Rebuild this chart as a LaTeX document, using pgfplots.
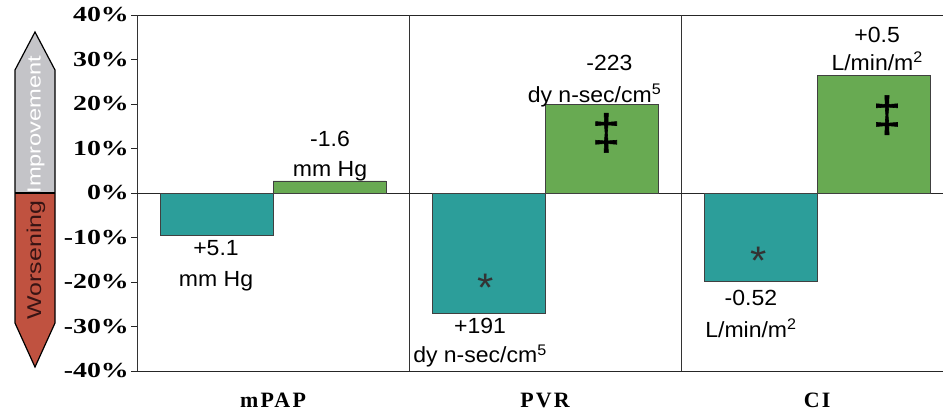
\documentclass[border=0pt]{standalone}
\usepackage{fontspec}
\usepackage{pgfplots}
\pgfplotsset{compat=1.18}
\setmainfont{Liberation Serif}
\newfontfamily\tickfont[FakeStretch=1.3]{Liberation Serif}
\newfontfamily\catfont[LetterSpace=10]{Liberation Serif}
\newfontfamily\lblfont[FakeStretch=1.05]{Liberation Sans}
\newfontfamily\daggerfont[FakeBold=1.2]{Liberation Sans}
\newfontfamily\arrfont[FakeStretch=1.25]{Liberation Sans}
\definecolor{tealbar}{RGB}{44,158,154}
\definecolor{greenbar}{RGB}{104,170,82}
\definecolor{arrgray}{RGB}{196,196,200}
\definecolor{arrred}{RGB}{192,82,64}
\definecolor{worscol}{RGB}{55,20,20}
\newcommand{\lbl}{\lblfont\fontsize{22}{26}\selectfont}
\begin{document}
\begin{tikzpicture}[x=1bp,y=1bp]
\useasboundingbox (0,0) rectangle (943,412);
% side arrow
\fill[arrgray] (15,219) -- (15,342) -- (35,380) -- (55,342) -- (55,219) -- cycle;
\fill[arrred] (15,219) -- (15,89) -- (35,45) -- (55,89) -- (55,219) -- cycle;
\draw[line width=1.2bp] (15,219) -- (15,342) -- (35,380) -- (55,342) -- (55,89) -- (35,45) -- (15,89) -- cycle;
\draw[line width=1.2bp] (15,219) -- (55,219);
\node[rotate=90, text=white, font=\arrfont\fontsize{19}{19}\selectfont] at (36,287.5) {Improvement};
\node[rotate=90, text=worscol, font=\arrfont\fontsize{20}{20}\selectfont] at (36,152) {Worsening};
\begin{axis}[
  at={(137bp,41bp)}, anchor=south west,
  scale only axis, width=806bp, height=356bp,
  xmin=-0.5, xmax=2.463, ymin=-40, ymax=40,
  axis x line*=box, axis y line*=left,
  axis line style={line width=0.9bp, black!85},
  ytick={-40,-30,-20,-10,0,10,20,30,40},
  yticklabels={-40\%,-30\%,-20\%,-10\%,0\%,10\%,20\%,30\%,40\%},
  yticklabel style={font=\tickfont\bfseries\fontsize{21.5}{21.5}\selectfont, anchor=east, inner sep=0pt, xshift=-2bp},
  ytick pos=left,
  tick align=outside,
  major tick length=6bp,
  tick style={line width=0.8bp, black!85},
  xtick={0,1,2},
  xticklabels={mPAP,PVR,CI},
  xtick pos=left,
  major x tick style={draw=none},
  xticklabel style={font=\catfont\bfseries\fontsize{22}{22}\selectfont, anchor=base, yshift=-30bp},
  extra x ticks={-0.5,0.5,1.5},
  extra x tick labels={},
  extra x tick style={grid=major, major grid style={line width=0.8bp, black!80}, major tick length=6bp, tick style={draw=black!85}},
  extra y ticks={0},
  extra y tick labels={},
  extra y tick style={grid=major, major grid style={line width=0.9bp, black!85}},
  clip=false,
]
\addplot[ybar, bar shift=0pt, bar width=0.415, fill=tealbar, draw=black!75, line width=0.7bp]
  coordinates {(-0.2075,-9.5) (0.7925,-27.0) (1.7925,-19.8)};
\addplot[ybar, bar shift=0pt, bar width=0.415, fill=greenbar, draw=black!75, line width=0.7bp]
  coordinates {(0.2075,2.7) (1.2075,20.0) (2.2075,26.5)};
% labels (x = -0.5 + (px-137)/272, y = (193-py)/4.45)
\node[anchor=base, font=\lbl] at (axis cs:0.2096,10.34) {-1.6};
\node[anchor=base, font=\lbl] at (axis cs:0.2096,3.60) {mm Hg};
\node[anchor=base, font=\lbl] at (axis cs:-0.2096,-14.0) {+5.1};
\node[anchor=base, font=\lbl] at (axis cs:-0.2096,-21.1) {mm Hg};
\node[anchor=base, font=\lbl] at (axis cs:1.237,27.6) {-223};
\node[anchor=base, font=\lbl] at (axis cs:1.182,20.4) {dy n-sec/cm\textsuperscript{5}};
\node[anchor=base, font=\lbl] at (axis cs:0.761,-31.5) {+191};
\node[anchor=base, font=\lbl] at (axis cs:0.761,-38.2) {dy n-sec/cm\textsuperscript{5}};
\node[anchor=base, font=\lbl] at (axis cs:2.221,33.9) {+0.5};
\node[anchor=base, font=\lbl] at (axis cs:2.221,27.6) {L/min/m\textsuperscript{2}};
\node[anchor=base, font=\lbl] at (axis cs:1.757,-25.2) {-0.52};
\node[anchor=base, font=\lbl] at (axis cs:1.757,-32.4) {L/min/m\textsuperscript{2}};
\node[font=\lblfont\fontsize{40}{40}\selectfont, text=black!80] at (axis cs:0.783,-21.3) {*};
\node[font=\lblfont\fontsize{40}{40}\selectfont, text=black!80] at (axis cs:1.787,-15.2) {*};
\node[font=\daggerfont\fontsize{50}{50}\selectfont] at (axis cs:1.225,13.5) {‡};
\node[font=\daggerfont\fontsize{50}{50}\selectfont] at (axis cs:2.257,17.5) {‡};
\end{axis}
\end{tikzpicture}
\end{document}
